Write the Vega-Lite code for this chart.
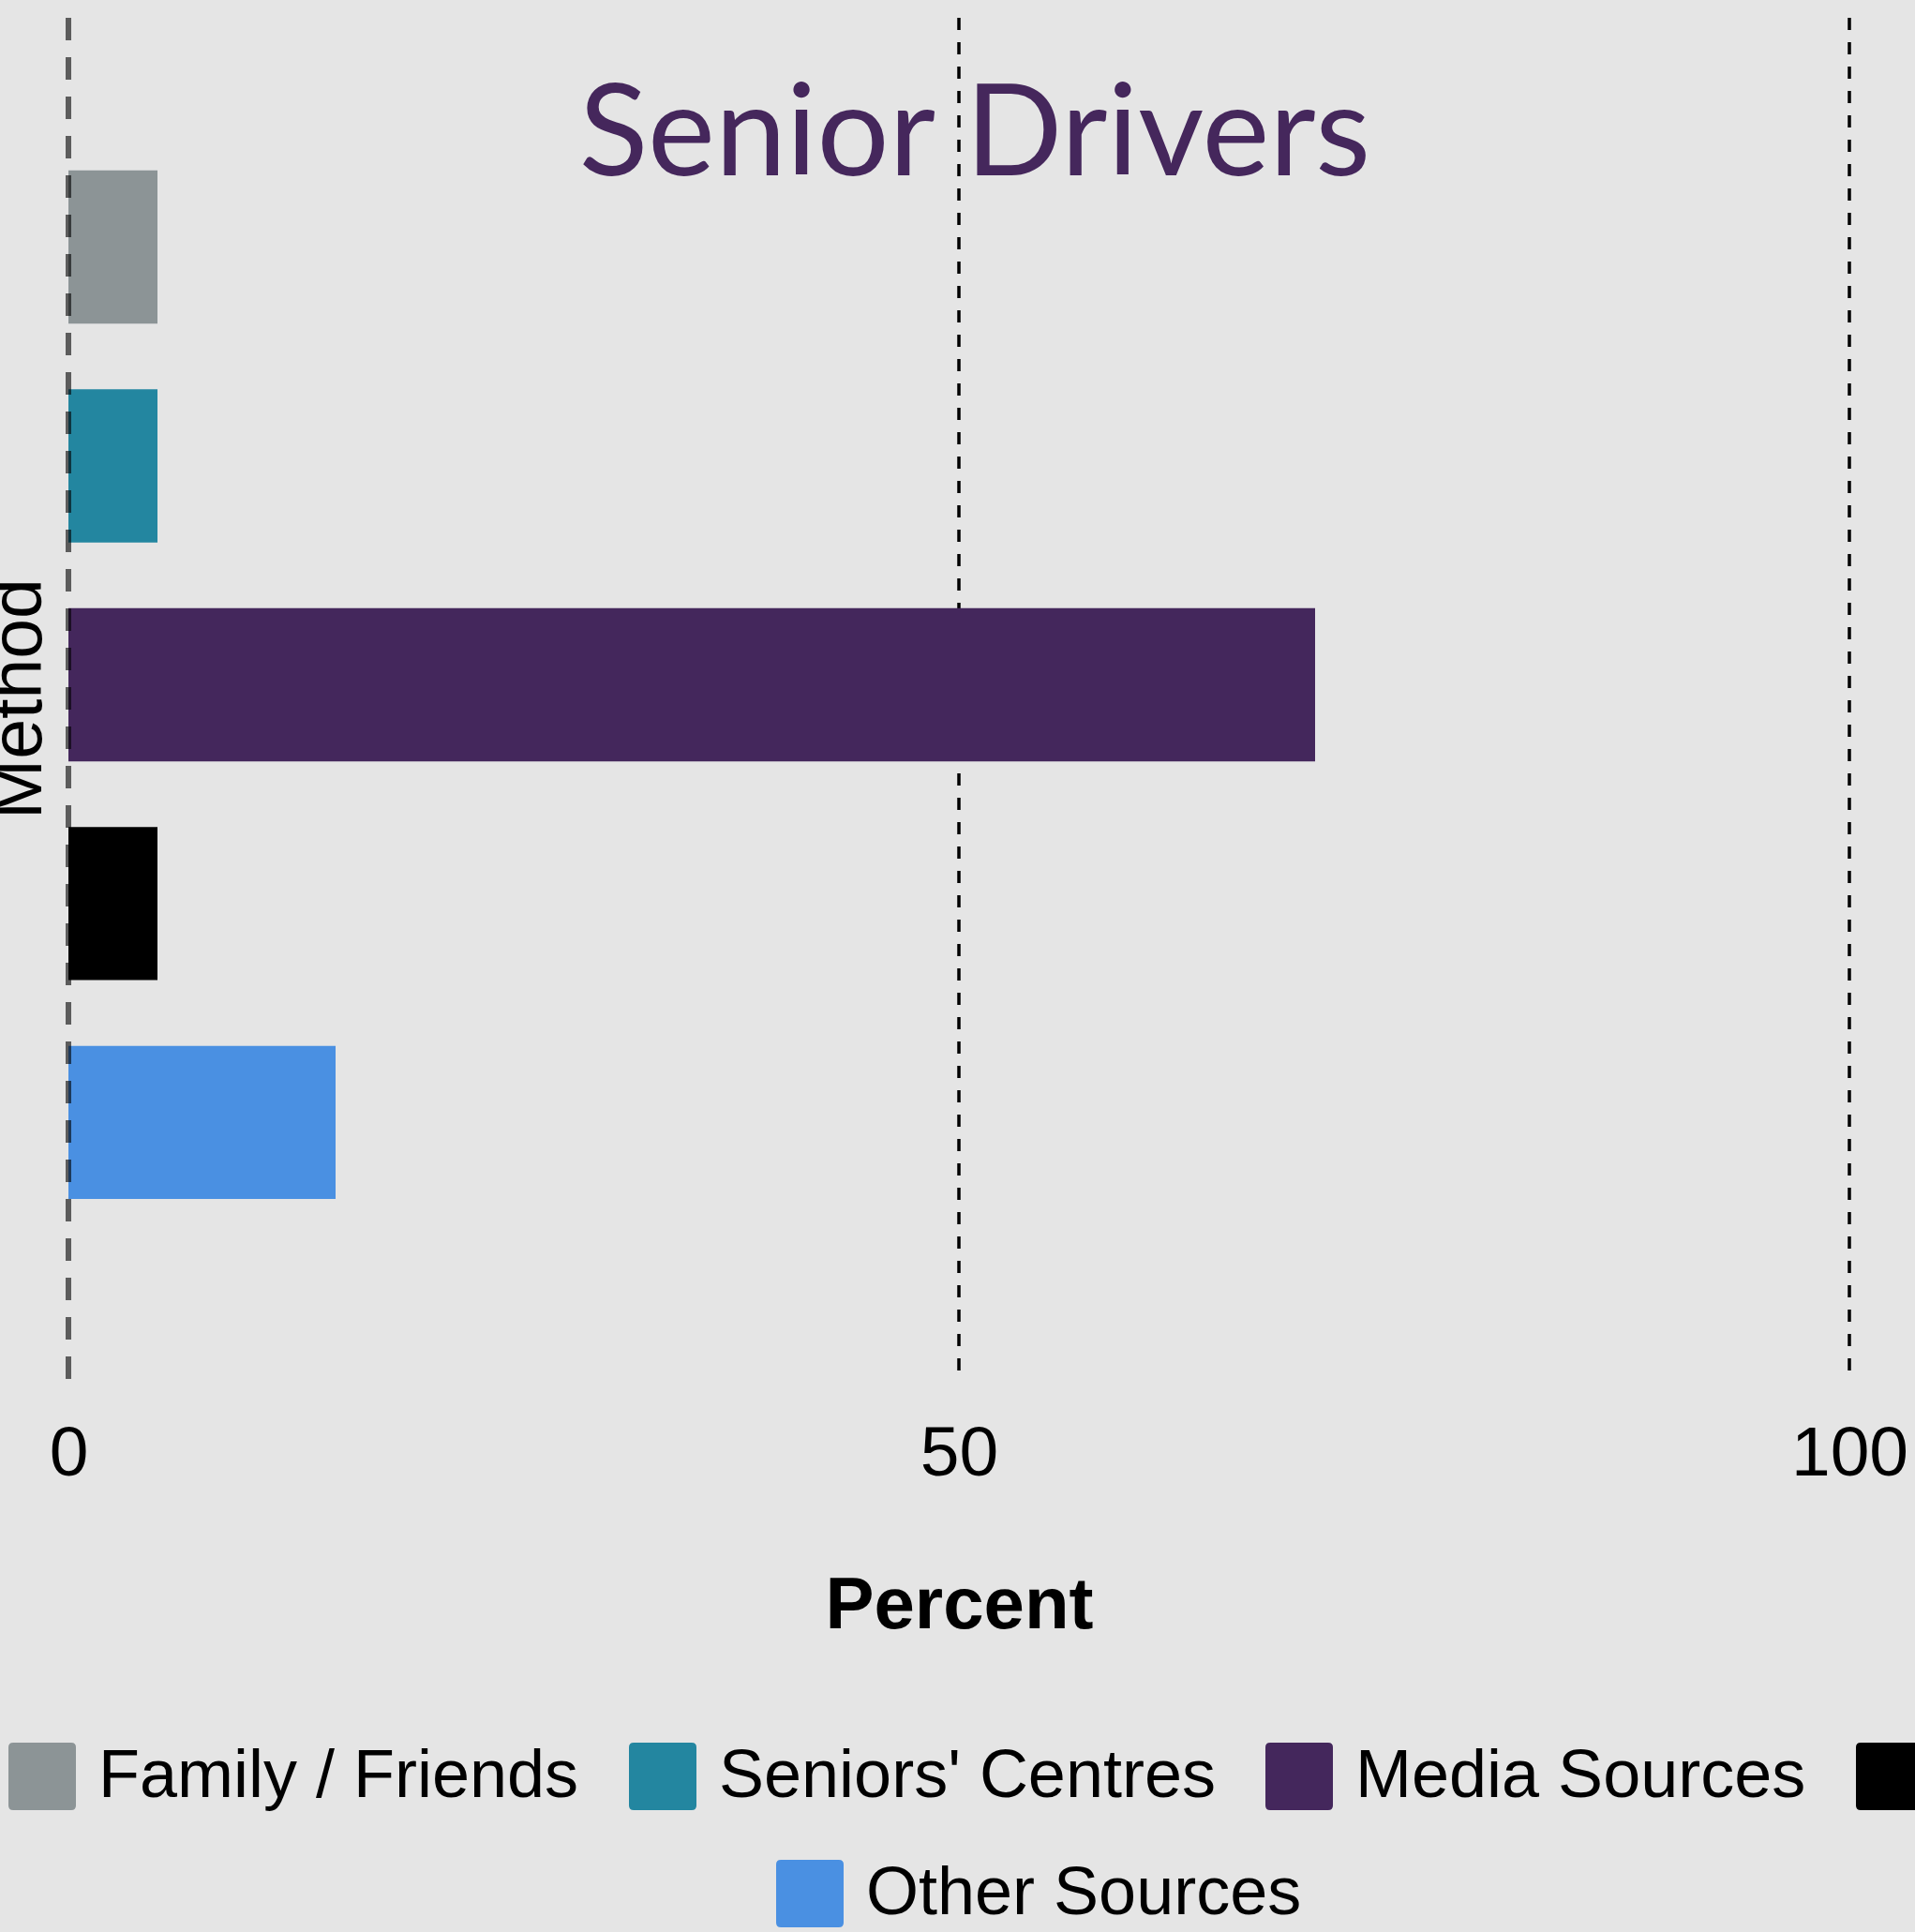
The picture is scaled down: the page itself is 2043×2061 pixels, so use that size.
{
  "$schema": "https://vega.github.io/schema/vega-lite/v6.json",
  "autosize": {"type": "none"},
  "width": 1900,
  "height": 1452,
  "padding": {"left": 73, "top": 19, "right": 70, "bottom": 590},
  "background": "#E5E5E5",
  "config": {
    "view": {"stroke": null, "fill": "#E5E5E5"},
    "font": "Liberation Sans"
  },
  "title": {
    "text": "Senior Drivers",
    "font": "Lato",
    "fontSize": 136,
    "fontWeight": "normal",
    "color": "#45275C",
    "anchor": "middle",
    "frame": "group",
    "orient": "top",
    "baseline": "alphabetic",
    "offset": -307,
    "dx": 17
  },
  "datasets": {
    "bars": [
      {"Method": "Family / Friends", "Percent": 5},
      {"Method": "Seniors' Centres", "Percent": 5},
      {"Method": "Media Sources", "Percent": 70},
      {"Method": "Internet", "Percent": 5},
      {"Method": "Other Sources", "Percent": 15}
    ],
    "gridlines": [{"Percent": 50}, {"Percent": 100}],
    "zero": [{"Percent": 0}]
  },
  "layer": [
    {
      "data": {"name": "gridlines"},
      "mark": {"type": "rule", "stroke": "#000000", "strokeWidth": 3.5, "strokeDash": [13, 13]},
      "encoding": {
        "x": {
          "field": "Percent",
          "type": "quantitative",
          "scale": {"domain": [0, 100], "nice": false, "zero": true},
          "axis": {
            "values": [0, 50, 100],
            "title": "Percent",
            "ticks": false,
            "domain": false,
            "grid": false,
            "labelFont": "Liberation Sans",
            "labelFontSize": 75,
            "labelColor": "#000000",
            "labelPadding": 43,
            "labelFlush": false,
            "titleFont": "Liberation Sans",
            "titleFontSize": 78,
            "titleFontWeight": "bold",
            "titleColor": "#000000",
            "titlePadding": 86
          }
        },
        "y": {"value": 0},
        "y2": {"value": 1452}
      }
    },
    {
      "data": {"name": "bars"},
      "transform": [{"filter": "datum.Method != 'Other Sources'"}],
      "mark": {"type": "bar"},
      "encoding": {
        "x": {"field": "Percent", "type": "quantitative"},
        "y": {
          "field": "Method",
          "type": "nominal",
          "scale": {
            "domain": ["Family / Friends", "Seniors' Centres", "Media Sources", "Internet", "Other Sources"],
            "paddingInner": 0.3,
            "paddingOuter": 0.76,
            "align": 0.459
          },
          "axis": {
            "title": "Method",
            "labels": false,
            "ticks": false,
            "domain": false,
            "grid": false,
            "titleFont": "Liberation Sans",
            "titleFontSize": 77,
            "titleFontWeight": "normal",
            "titleColor": "#000000",
            "titleBaseline": "alphabetic",
            "titlePadding": 30
          }
        },
        "color": {
          "field": "Method",
          "type": "nominal",
          "scale": {
            "domain": ["Family / Friends", "Seniors' Centres", "Media Sources", "Internet"],
            "range": ["#8C9496", "#2386A0", "#44275C", "#000000"]
          },
          "legend": {
            "title": null,
            "orient": "none",
            "direction": "horizontal",
            "legendX": -64,
            "legendY": 1840,
            "symbolType": "M-1,-0.86Q-1,-1,-0.86,-1L0.86,-1Q1,-1,1,-0.86L1,0.86Q1,1,0.86,1L-0.86,1Q-1,1,-1,0.86Z",
            "symbolSize": 5184,
            "symbolStrokeWidth": 0,
            "symbolOpacity": 1,
            "labelFont": "Liberation Sans",
            "labelFontSize": 72,
            "labelColor": "#000000",
            "labelOffset": 24,
            "labelLimit": 1000,
            "columnPadding": 53,
            "padding": 0
          }
        }
      }
    },
    {
      "data": {"name": "bars"},
      "transform": [{"filter": "datum.Method == 'Other Sources'"}],
      "mark": {"type": "bar"},
      "encoding": {
        "x": {"field": "Percent", "type": "quantitative"},
        "y": {"field": "Method", "type": "nominal"},
        "color": {
          "field": "Method",
          "type": "nominal",
          "scale": {"domain": ["Other Sources"], "range": ["#4A90E2"]},
          "legend": {
            "title": null,
            "orient": "none",
            "direction": "horizontal",
            "legendX": 755,
            "legendY": 1965,
            "symbolType": "M-1,-0.86Q-1,-1,-0.86,-1L0.86,-1Q1,-1,1,-0.86L1,0.86Q1,1,0.86,1L-0.86,1Q-1,1,-1,0.86Z",
            "symbolSize": 5184,
            "symbolStrokeWidth": 0,
            "symbolOpacity": 1,
            "labelFont": "Liberation Sans",
            "labelFontSize": 72,
            "labelColor": "#000000",
            "labelOffset": 24,
            "labelLimit": 1000,
            "padding": 0
          }
        }
      }
    },
    {
      "data": {"name": "zero"},
      "mark": {"type": "rule", "stroke": "#000000", "strokeOpacity": 0.6, "strokeWidth": 6, "strokeDash": [24, 18]},
      "encoding": {"x": {"field": "Percent", "type": "quantitative"}, "y": {"value": 0}, "y2": {"value": 1452}}
    }
  ],
  "resolve": {"scale": {"color": "independent"}}
}
